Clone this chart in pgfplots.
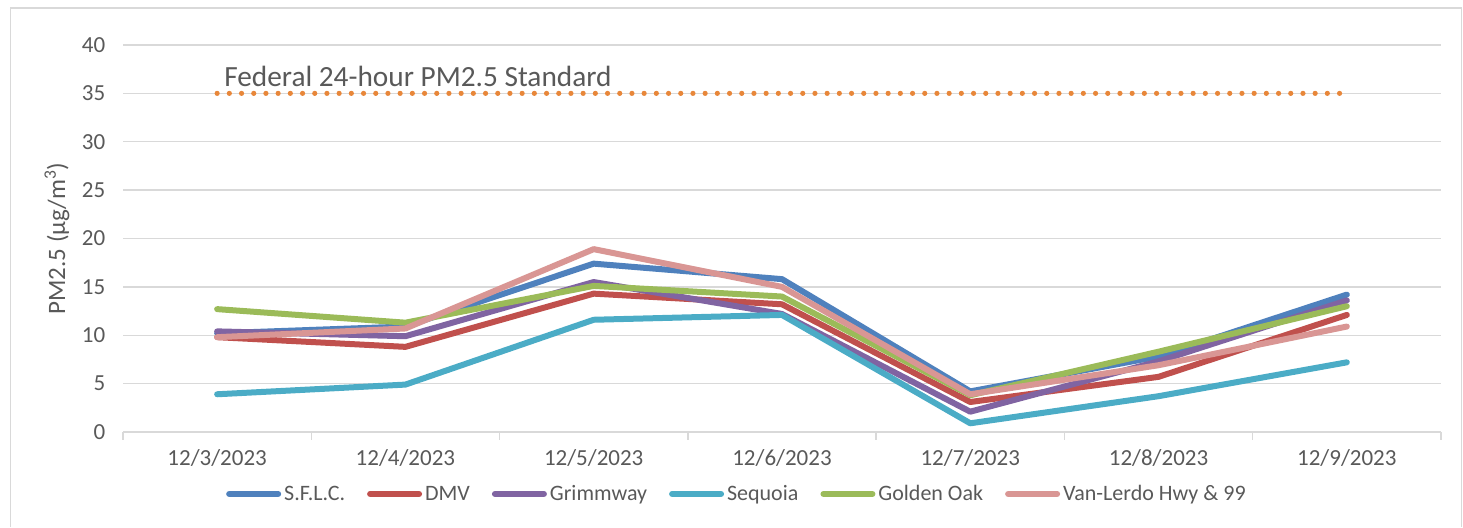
\documentclass[border=0pt]{standalone}
\usepackage{pgfplots}
\pgfplotsset{compat=1.18}
\usepackage{fontspec}
\setmainfont{Carlito}
\definecolor{txt}{HTML}{595959}
\definecolor{grid}{HTML}{D9D9D9}
\definecolor{cblue}{HTML}{4F81BD}
\definecolor{cred}{HTML}{C0504D}
\definecolor{cpurple}{HTML}{8064A2}
\definecolor{caqua}{HTML}{4BACC6}
\definecolor{cgreen}{HTML}{9BBB59}
\definecolor{cpink}{HTML}{D99694}
\definecolor{corange}{HTML}{E8873A}
\begin{document}
\begin{tikzpicture}
\useasboundingbox (0,0) rectangle (1463pt,527pt);
\draw[grid, line width=1.5pt] (10.5pt,0) -- (10.5pt,519pt) -- (1461.5pt,519pt) -- (1461.5pt,0);
\begin{axis}[
  at={(123pt,95pt)}, anchor=south west,
  scale only axis, width=1318pt, height=387pt,
  xmin=-0.5, xmax=6.5, ymin=0, ymax=40,
  axis lines*=left,
  y axis line style={draw=none},
  x axis line style={draw=grid, line width=1.5pt},
  xtick={0,...,6},
  xticklabels={12/3/2023,12/4/2023,12/5/2023,12/6/2023,12/7/2023,12/8/2023,12/9/2023},
  minor xtick={-0.5,0.5,...,6.5},
  major x tick style={draw=none},
  minor x tick style={draw=grid, line width=1.5pt},
  minor tick length=8pt,
  tick align=outside,
  ytick={0,5,...,40},
  major y tick style={draw=none},
  ymajorgrids,
  grid style={draw=grid, line width=1.4pt},
  /pgf/number format/assume math mode=true,
  ticklabel style={font=\fontsize{23}{27}\selectfont, text=txt},
  xticklabel style={yshift=-10pt},
  yticklabel style={xshift=-10pt},
  ylabel={PM2.5 (µg/m\textsuperscript{3})},
  ylabel style={at={(axis description cs:-0.0501,0.5)}, anchor=center, font=\fontsize{25}{29}\selectfont, text=txt},
  legend columns=6,
  legend style={at={(0.4662,-0.160)}, anchor=center, draw=none, fill=none,
    font=\fontsize{22}{26}\selectfont, text=txt, inner sep=0pt,
    nodes={inner xsep=3pt, inner ysep=0pt},
    /tikz/every even column/.append style={column sep=19pt}},
  legend image code/.code={\draw[#1, line cap=round] (3pt,0pt) -- (52pt,0pt);},
  every axis plot/.append style={line width=6pt, line join=round, line cap=round},
]
\addplot[corange, line width=5.2pt, dash pattern=on 0pt off 12.2pt, forget plot] coordinates {(0,35) (6,35)};
\addplot[cblue] coordinates {(0,10.2) (1,10.9) (2,17.4) (3,15.8) (4,4.2) (5,7.8) (6,14.2)};
\addlegendentry{S.F.L.C.}
\addplot[cred] coordinates {(0,9.8) (1,8.8) (2,14.3) (3,13.2) (4,3.1) (5,5.7) (6,12.1)};
\addlegendentry{DMV}
\addplot[cpurple] coordinates {(0,10.4) (1,9.9) (2,15.5) (3,12.2) (4,2.1) (5,7.3) (6,13.6)};
\addlegendentry{Grimmway}
\addplot[caqua] coordinates {(0,3.9) (1,4.9) (2,11.6) (3,12.1) (4,0.9) (5,3.7) (6,7.2)};
\addlegendentry{Sequoia}
\addplot[cgreen] coordinates {(0,12.7) (1,11.3) (2,15.1) (3,14.0) (4,3.8) (5,8.3) (6,13.0)};
\addlegendentry{Golden Oak}
\addplot[cpink] coordinates {(0,9.8) (1,10.7) (2,18.9) (3,15.0) (4,3.9) (5,6.9) (6,10.9)};
\addlegendentry{Van-Lerdo Hwy \& 99}
\node[anchor=base west, inner sep=0pt, text=txt, font=\fontsize{29.3}{34}\selectfont] at (axis cs:0,35) [xshift=7pt, yshift=7pt] {Federal 24-hour PM2.5 Standard};
\end{axis}
\end{tikzpicture}
\end{document}
